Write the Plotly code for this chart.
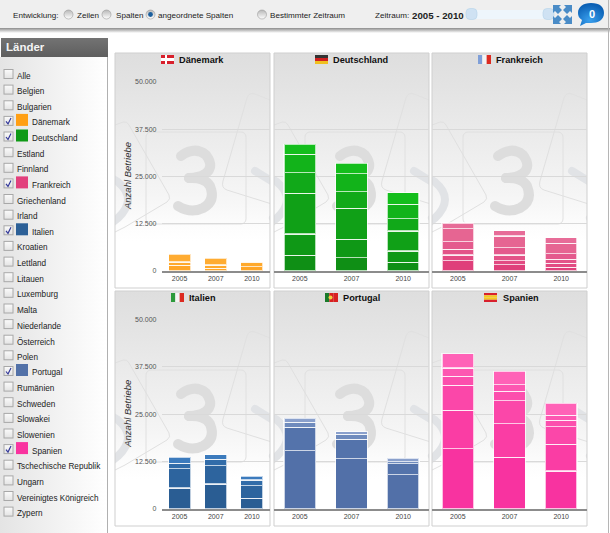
import base64
import plotly.graph_objects as go

W, H = 610, 533

years = ["2005", "2007", "2010"]
y_ticks = [0, 12500, 25000, 37500, 50000]
y_tick_labels = ["0", "12.500", "25.000", "37.500", "50.000"]

# one list per year, segments from the bottom of the bar upwards
daenemark = [[1500, 900, 2000], [700, 900, 1750], [1150, 1250]]
deutschland = [
    [4140, 5630, 10820, 5460, 4840, 2640],
    [3520, 4840, 8270, 4400, 4660, 2820],
    [2290, 2990, 5280, 3260, 3780, 3080],
]
frankreich = [
    [2730, 1500, 1500, 2030, 3440, 1500],
    [1680, 1060, 1500, 1940, 3090, 1410],
    [970, 1060, 1060, 1500, 2730, 1500],
]
italien = [
    [5560, 5030, 1500, 1500],
    [6610, 4850, 1680, 1230],
    [2820, 3350, 1500, 1060],
]
portugal = [
    [15430, 6090, 1320, 1060],
    [13230, 5110, 1320, 700],
    [9000, 2910, 620, 880],
]
spanien = [
    [15880, 10140, 6620, 2380, 2200, 3790],
    [13670, 8820, 6090, 2470, 1760, 3530],
    [10050, 6970, 4670, 1680, 1320, 3170],
]

laender = [
    "Alle", "Belgien", "Bulgarien", "Dänemark", "Deutschland", "Estland", "Finnland",
    "Frankreich", "Griechenland", "Irland", "Italien", "Kroatien", "Lettland", "Litauen",
    "Luxemburg", "Malta", "Niederlande", "Österreich", "Polen", "Portugal", "Rumänien",
    "Schweden", "Slowakei", "Slowenien", "Spanien", "Tschechische Republik", "Ungarn",
    "Vereinigtes Königreich", "Zypern",
]
swatches = {
    "Dänemark": "#FF9F14", "Deutschland": "#0F9A16", "Frankreich": "#E23F7C",
    "Italien": "#2C6097", "Portugal": "#5271A8", "Spanien": "#F9339F",
}

panels = [
    ("Dänemark", daenemark, 161.5, 270, 82, 271, 178,
     ["#FFA526", "#FFA92C", "#FFAC32"]),
    ("Deutschland", deutschland, 274, 429, 82, 271, 332,
     ["#0F8F15", "#0F9816", "#10A017", "#11A919", "#12B31A", "#14BE1C"]),
    ("Frankreich", frankreich, 432, 587, 82, 271, 495,
     ["#DF3F7A", "#E24A82", "#E35388", "#E45A8D", "#E66592", "#E76C98"]),
    ("Italien", italien, 161.5, 270, 319.5, 509, 188,
     ["#2A5D93", "#2D649E", "#316CA9", "#3C7BBD"]),
    ("Portugal", portugal, 274, 429, 319.5, 509, 342,
     ["#5270A8", "#5473AB", "#6F8BBD", "#8AA0CC"]),
    ("Spanien", spanien, 432, 587, 319.5, 509, 502,
     ["#F833A0", "#FA3DA4", "#FB47A9", "#FC4FAD", "#FD57B1", "#FF62B7"]),
]
panel_boxes = [(115, 53), (274, 53), (432, 53), (115, 291), (274, 291), (432, 291)]
PANEL_W, PANEL_H = 155, 235

FONT = "Liberation Sans"


def svg_uri(body, w, h):
    svg = f'<svg xmlns="http://www.w3.org/2000/svg" width="{w}" height="{h}" viewBox="0 0 {w} {h}">{body}</svg>'
    return "data:image/svg+xml;base64," + base64.b64encode(svg.encode()).decode()


def px_image(body, x, y, w, h, layer="below"):
    return dict(source=svg_uri(body, w, h), xref="paper", yref="paper", x=x / W, y=1 - y / H,
                sizex=w / W, sizey=h / H, xanchor="left", yanchor="top", sizing="stretch", layer=layer)


def note(x, y, text, size=8.2, color="#222222", anchor="left", **kw):
    return dict(x=x / W, y=1 - y / H, xref="paper", yref="paper", text=text, showarrow=False,
                xanchor=anchor, yanchor="middle", font=dict(family=FONT, size=size, color=color), **kw)


def flag_rects(x, y, colors, vertical=True):
    w, h = 13, 9
    out = []
    n = len(colors)
    for i, c in enumerate(colors):
        if vertical:
            x0, x1, y0, y1 = x + i * w / n, x + (i + 1) * w / n, y, y + h
        else:
            x0, x1, y0, y1 = x, x + w, y + i * h / n, y + (i + 1) * h / n
        out.append(dict(type="rect", xref="paper", yref="paper", x0=x0 / W, x1=x1 / W, y0=1 - y0 / H,
                        y1=1 - y1 / H, fillcolor=c, line=dict(width=0), layer="above"))
    return out


# panel background: grey gradient plus the faint logo watermark
panel_body = f"""
<defs><linearGradient id="g" x1="0" y1="0" x2="0" y2="1">
<stop offset="0" stop-color="#dedede"/><stop offset="0.14" stop-color="#e3e3e3"/>
<stop offset="0.42" stop-color="#eeeeee"/><stop offset="0.6" stop-color="#f5f5f5"/>
<stop offset="0.75" stop-color="#fdfdfd"/><stop offset="0.8" stop-color="#ffffff"/></linearGradient></defs>
<rect width="{PANEL_W}" height="{PANEL_H}" fill="url(#g)"/>
<g fill="none" stroke="#e0e0e0" stroke-width="1">
<rect x="31" y="79" width="100" height="92" rx="5"/>
<path d="M160,49 L140,41 Q134,39 132,45 L108,128 Q106,135 112,137 L160,152"/>
<path d="M0,72 L8,69 Q12,68 14,72 L54,142 Q56,146 52,149 L10,174 L0,179"/>
</g>
<g fill="none" stroke="#e1e3e6" stroke-width="8" stroke-linecap="round">
<path d="M140,118 L158,129 Q178,146 158,165"/>
<path d="M-15,118 L3,129 Q23,146 3,165 L-6,172"/>
</g>
<g fill="none" stroke="#dddddd" stroke-width="10" stroke-linecap="round">
<path d="M66,103 Q80,93 91,102 Q100,114 90,121 Q84,125 74,125"/>
<path d="M74,125 Q90,124 95,133 Q101,148 88,155 Q76,161 63,153"/>
</g>
"""

# left column: gradient, header bar, check boxes, colour swatches
rows_y = [76 + i * 15.63 for i in range(len(laender))]
side = """
<defs><linearGradient id="s" x1="0" y1="0" x2="1" y2="0">
<stop offset="0" stop-color="#e4e4e4"/><stop offset="1" stop-color="#ffffff"/></linearGradient>
<linearGradient id="b" x1="0" y1="0" x2="0" y2="1">
<stop offset="0" stop-color="#fbfbfb"/><stop offset="1" stop-color="#e3e3e3"/></linearGradient>
<linearGradient id="h" x1="0" y1="0" x2="0" y2="1">
<stop offset="0" stop-color="#737373"/><stop offset="1" stop-color="#5e5e5e"/></linearGradient></defs>
<rect x="0" y="19" width="107" height="476" fill="url(#s)"/>
<rect x="107" y="19" width="1" height="476" fill="#b0b0b0"/>
<rect x="1" y="0" width="107" height="19" fill="url(#h)"/>
"""
for name, ry in zip(laender, rows_y):
    top = ry - 38 - 6.5
    side += f'<rect x="4" y="{top:.1f}" width="9" height="9" fill="url(#b)" stroke="#a8a8a8" stroke-width="1"/>'
    if name in swatches:
        side += f'<path d="M6,{top + 5:.1f} L8,{top + 7.5:.1f} L11,{top + 1.5:.1f}" fill="none" stroke="#33389a" stroke-width="1.2"/>'
        side += f'<rect x="16" y="{ry - 38 - 9:.1f}" width="12" height="12" fill="{swatches[name]}"/>'

# top bar: radio buttons, range slider, the two icons
radios = [(68.5, False), (106.5, False), (150.5, True), (262, False)]
bar = """
<defs><linearGradient id="r" x1="0" y1="0" x2="0" y2="1">
<stop offset="0" stop-color="#b8b8b8"/><stop offset="1" stop-color="#ffffff"/></linearGradient>
<linearGradient id="sh" x1="0" y1="0" x2="0" y2="1">
<stop offset="0" stop-color="#8c8c8c"/><stop offset="1" stop-color="#ffffff"/></linearGradient>
<radialGradient id="bub" cx="0.45" cy="0.75" r="0.7"><stop offset="0" stop-color="#3aa0ee"/>
<stop offset="1" stop-color="#0a5fb4"/></radialGradient></defs>
<rect width="610" height="28" fill="#efefef"/>
<rect y="28" width="610" height="5" fill="url(#sh)"/>
"""
for rx, on in radios:
    bar += f'<circle cx="{rx}" cy="14.5" r="4.5" fill="url(#r)" stroke="#9a9a9a" stroke-width="0.6"/>'
    if on:
        bar += f'<circle cx="{rx}" cy="14.5" r="2.4" fill="#1b5f9e"/>'
bar += """
<rect x="470" y="10" width="80" height="9" rx="3" fill="#eef6fc"/>
<rect x="466" y="8.5" width="11" height="11" rx="4" fill="#cfe2f3" stroke="#b6d3ea" stroke-width="0.6"/>
<rect x="543" y="8.5" width="11" height="11" rx="4" fill="#cfe2f3" stroke="#b6d3ea" stroke-width="0.6"/>
<g fill="#4a8cc7">
<path d="M553,5 L561,5 L559,7 L562,10 L558,14 L555,11 L553,13 Z"/>
<path d="M572,5 L564,5 L566,7 L563,10 L567,14 L570,11 L572,13 Z"/>
<path d="M553,24 L561,24 L559,22 L562,19 L558,15 L555,18 L553,16 Z"/>
<path d="M572,24 L564,24 L566,22 L563,19 L567,15 L570,18 L572,16 Z"/>
</g>
<path d="M591,3 C600,3 604,7 604,13 C604,20 598,23 591,23 L586,23 L580,26 L582,20 C579,18 578,16 578,13 C578,7 583,3 591,3 Z" fill="url(#bub)"/>
"""

images = [px_image(panel_body, px, py, PANEL_W, PANEL_H) for px, py in panel_boxes]
images.append(px_image(side, 0, 38, 108, 495))
images.append(px_image(bar, 0, 0, 610, 36))

shapes = []
for px, py in panel_boxes:
    shapes.append(dict(type="rect", xref="paper", yref="paper", x0=px / W, x1=(px + PANEL_W) / W,
                       y0=1 - py / H, y1=1 - (py + PANEL_H) / H, line=dict(color="#cfcfcf", width=1),
                       layer="below"))
shapes.append(dict(type="line", xref="paper", yref="paper", x0=608.5 / W, x1=608.5 / W, y0=0, y1=1,
                   line=dict(color="#b5b5b5", width=1), layer="below"))

# flags
shapes += flag_rects(161, 55, ["#d8202c", "#ffffff", "#d8202c"], vertical=False)
shapes.append(dict(type="rect", xref="paper", yref="paper", x0=165 / W, x1=167 / W, y0=1 - 55 / H,
                   y1=1 - 64 / H, fillcolor="#ffffff", line=dict(width=0), layer="above"))
shapes += flag_rects(315, 55, ["#333333", "#d02020", "#f0c020"], vertical=False)
shapes += flag_rects(478, 55, ["#7f9fd8", "#f4f4f4", "#dc2a20"])
shapes += flag_rects(171, 293, ["#2d9a3c", "#f4f4f4", "#dc2a20"])
shapes += flag_rects(325, 293, ["#1a7a2a", "#d82020", "#d82020"])
shapes.append(dict(type="circle", xref="paper", yref="paper", x0=328.5 / W, x1=332.5 / W, y0=1 - 295.5 / H,
                   y1=1 - 299.5 / H, fillcolor="#f0d040", line=dict(width=0), layer="above"))
shapes += flag_rects(484, 293, ["#d8202c", "#f5c920", "#f5c920", "#d8202c"], vertical=False)

annotations = [
    note(10.5, 15, "Entwicklung:", size=8.1),
    note(74.5, 15, "Zeilen", size=8.1),
    note(113.5, 15, "Spalten", size=8.1),
    note(156.5, 15, "angeordnete Spalten", size=8.1),
    note(267.5, 15, "Bestimmter Zeitraum", size=8.1),
    note(372.5, 15, "Zeitraum:", size=8.1),
    note(409.5, 15, "<b>2005 - 2010</b>", size=9.7),
    note(591.5, 14.5, "<b>0</b>", size=11, color="#ffffff", anchor="center"),
    note(4, 47.5, "<b>Länder</b>", size=11.5, color="#f4f4f4"),
]
for name, ry in zip(laender, rows_y):
    annotations.append(note(30 if name in swatches else 14.5, ry, name))

fig = go.Figure()
layout_axes = {}
for n, (title, data, x0, x1, y0, y1, title_x, colors) in enumerate(panels, start=1):
    suffix = "" if n == 1 else str(n)
    show_y = n in (1, 4)
    layout_axes[f"xaxis{suffix}"] = dict(
        domain=[x0 / W, x1 / W], anchor=f"y{suffix}", type="category", categoryorder="array",
        categoryarray=years, range=[-0.5, 2.5], showgrid=False, showline=True, linecolor="#8c8c8c",
        linewidth=1.5, ticks="", automargin=False, tickfont=dict(family=FONT, size=7, color="#444444"),
        fixedrange=True,
    )
    layout_axes[f"yaxis{suffix}"] = dict(
        domain=[1 - y1 / H, 1 - y0 / H], anchor=f"x{suffix}", range=[0, 50000], tickvals=y_ticks,
        ticktext=y_tick_labels, showticklabels=show_y, showgrid=True, gridcolor="#d9d9d9", gridwidth=1.3,
        zeroline=False, ticks="", automargin=False, ticklabelstandoff=4,
        tickfont=dict(family=FONT, size=7, color="#555555"), fixedrange=True,
    )
    for j in range(max(len(v) for v in data)):
        fig.add_trace(go.Bar(
            x=years,
            y=[v[j] if j < len(v) else 0 for v in data],
            xaxis=f"x{suffix}",
            yaxis=f"y{suffix}",
            name=f"{title} {j + 1}",
            marker=dict(color=colors[j], line=dict(color="rgba(255,255,255,0.7)", width=1.2)),
            showlegend=False,
        ))
    annotations.append(note(title_x - 1, y0 - 22, f"<b>{title}</b>", size=9.2, color="#111111"))
    if show_y:
        annotations.append(note(127.5, (y0 + y1) / 2, "<i>Anzahl Betriebe</i>", size=9.5,
                                color="#333333", anchor="center", textangle=-90))

fig.update_layout(
    width=W, height=H, margin=dict(l=0, r=0, t=0, b=0), barmode="stack", bargap=0.39,
    paper_bgcolor="white", plot_bgcolor="rgba(0,0,0,0)", font=dict(family=FONT),
    images=images, shapes=shapes, annotations=annotations, **layout_axes,
)

fig.write_html("out.html", config=dict(displayModeBar=False),
               post_script="document.body.style.margin='0';")
